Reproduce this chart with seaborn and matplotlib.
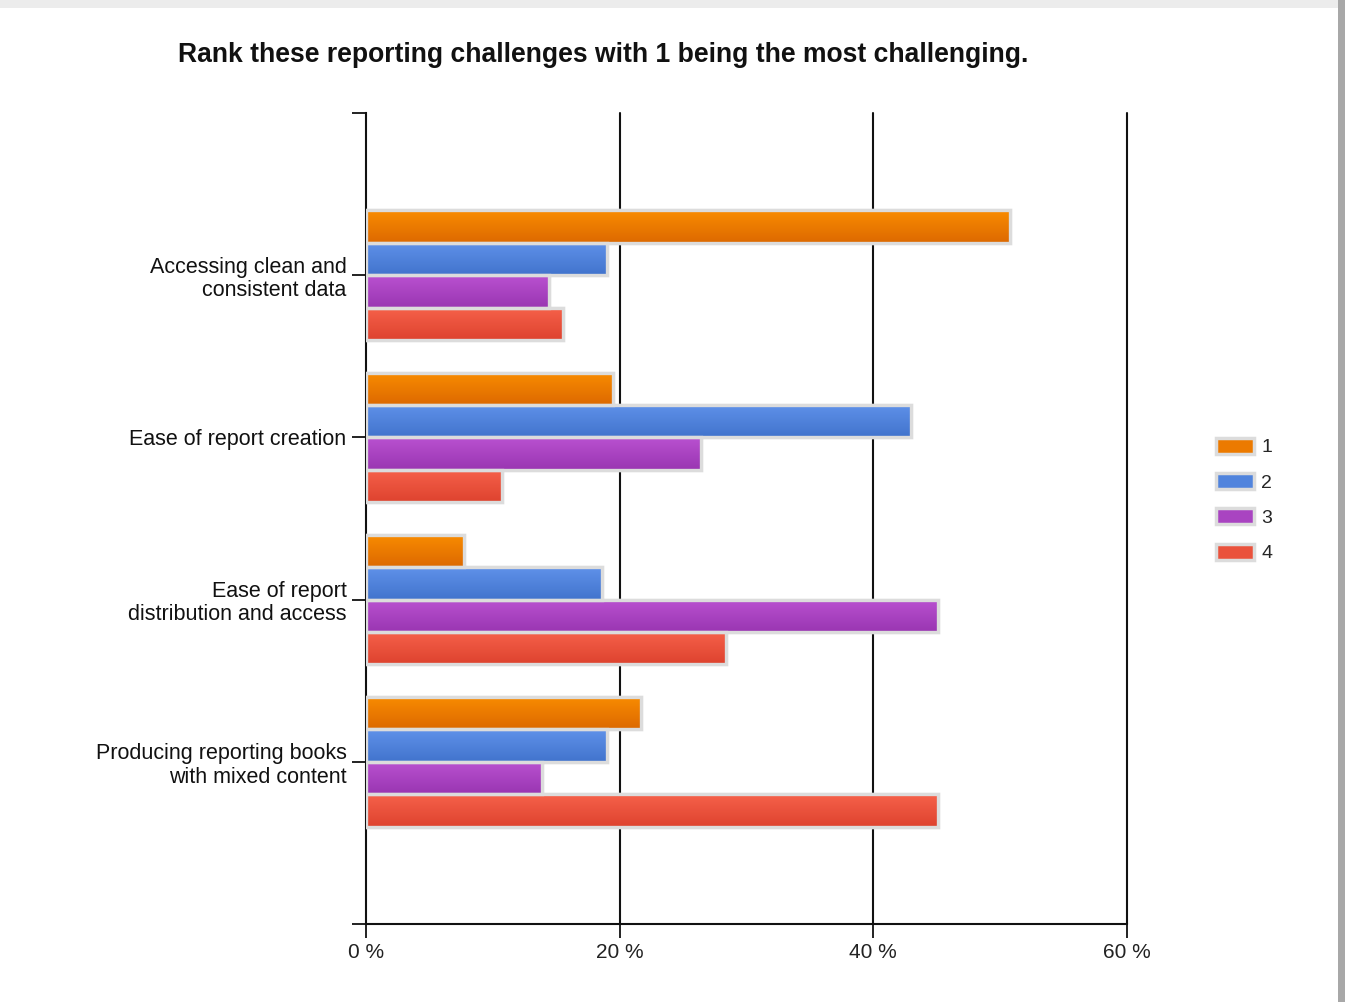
import numpy as np
import pandas as pd
import matplotlib
matplotlib.use("Agg")
import matplotlib.pyplot as plt
import seaborn as sns
from matplotlib.colors import LinearSegmentedColormap
from matplotlib.patches import Rectangle, Patch

categories = ["Accessing clean and\nconsistent data",
              "Ease of report creation",
              "Ease of report\ndistribution and access",
              "Producing reporting books\nwith mixed content"]
ranks = ["1", "2", "3", "4"]
rank1 = [50.8, 19.5, 7.7, 21.7]
rank2 = [19.0, 43.0, 18.6, 19.0]
rank3 = [14.4, 26.4, 45.1, 13.9]
rank4 = [15.5, 10.7, 28.4, 45.1]
xticks = [0, 20, 40, 60]
xticklabels = ["0 %", "20 %", "40 %", "60 %"]
title = "Rank these reporting challenges with 1 being the most challenging."

colors = ["#ec7a00", "#5184dd", "#a944c1", "#ea523c"]
tops = ["#f98c00", "#5f91e9", "#b951d0", "#f6614a"]
bottoms = ["#dd6900", "#4274cd", "#9a36b2", "#de432f"]

df = pd.DataFrame({
    "category": categories * 4,
    "rank": [r for r in ranks for _ in categories],
    "value": rank1 + rank2 + rank3 + rank4,
})

sns.set_theme(style="white")
plt.rcParams["font.family"] = ["Liberation Sans", "DejaVu Sans"]

fig = plt.figure(figsize=(13.45, 10.02), dpi=100)
ax = fig.add_axes([366/1345, 1-924/1002, (1127-366)/1345, (924-113)/1002])

sns.barplot(data=df, y="category", x="value", hue="rank", order=categories,
            hue_order=ranks, palette=colors, orient="h", width=0.8, ax=ax,
            edgecolor="#dcdcdc", linewidth=2.4, saturation=1, zorder=3)

# gradient overlay
for i, container in enumerate(ax.containers):
    cmap = LinearSegmentedColormap.from_list("g", [tops[i], bottoms[i]])
    for patch in container:
        x0, y0 = patch.get_x(), patch.get_y()
        w, h = patch.get_width(), patch.get_height()
        grad = np.linspace(0, 1, 64).reshape(-1, 1)
        ax.imshow(grad, cmap=cmap, aspect="auto", origin="upper",
                  extent=(x0, x0 + w, y0 + h, y0), zorder=3.5,
                  interpolation="bicubic")
        ax.add_patch(Rectangle((x0, y0), w, h, fill=False,
                               edgecolor="#dcdcdc", linewidth=2.4, zorder=4))

ax.set_xlim(0, 60)
ax.set_ylim(4, -1)
ax.set_xticks(xticks)
ax.set_xticklabels(xticklabels, fontsize=15, color="#222222")
ax.set_yticks([-1, 0, 1, 2, 3, 4])
ax.set_yticklabels([""] + categories + [""], fontsize=15.5, color="#111111",
                   linespacing=1.15)
ax.set_xlabel("")
ax.set_ylabel("")
ax.grid(False)
for x in xticks[1:]:
    ax.axvline(x, color="#111111", linewidth=1.5, zorder=1, clip_on=False)
for s in ["top", "right"]:
    ax.spines[s].set_visible(False)
for s in ["left", "bottom"]:
    ax.spines[s].set_color("#111111")
    ax.spines[s].set_linewidth(1.5)
ax.tick_params(axis="both", which="both", length=10, width=1.3,
               color="#111111", direction="out")
ax.tick_params(axis="y", pad=4, left=True)
ax.tick_params(axis="x", pad=4, bottom=True)

if ax.legend_:
    ax.legend_.remove()
lh = [Patch(facecolor=c, edgecolor="#dcdcdc", linewidth=2.5) for c in colors]
fig.legend(lh, ranks, loc="center left",
           bbox_to_anchor=(1198/1345, 1-500/1002), frameon=False,
           fontsize=14, handlelength=2.0, handleheight=0.9,
           labelspacing=0.85, handletextpad=0.35)

fig.text(603/1345, 1-55/1002, title, ha="center", va="center",
         fontsize=19.1, fontweight="bold", color="#111111")

# page shadow
fig.patches.append(Rectangle((1338/1345, 0), 7/1345, 1, transform=fig.transFigure,
                             facecolor="#a8a8a8", edgecolor="none", zorder=0))
fig.patches.append(Rectangle((0, 1-8/1002), 1338/1345, 8/1002, transform=fig.transFigure,
                             facecolor="#ececec", edgecolor="none", zorder=0))

fig.savefig("out.png", dpi=100, facecolor="white")
